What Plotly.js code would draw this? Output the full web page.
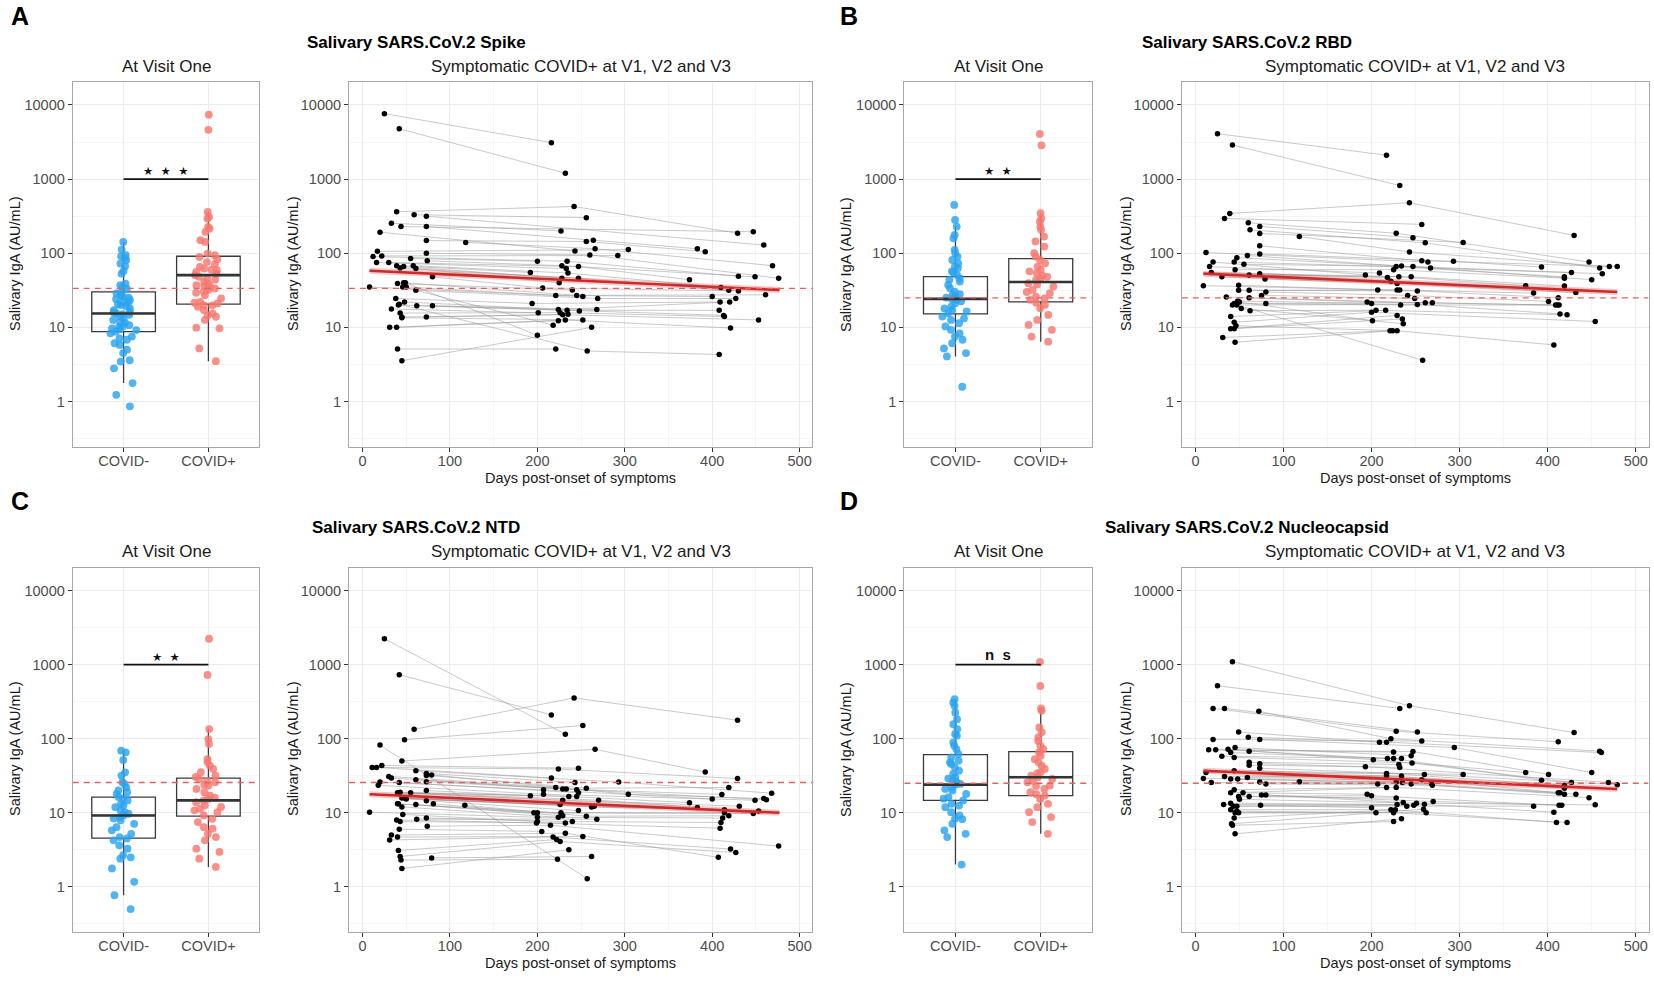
<!DOCTYPE html>
<html><head><meta charset="utf-8">
<script src="https://cdn.plot.ly/plotly-3.0.1.min.js"></script>
<style>html,body{margin:0;padding:0;background:#fff}#chart{width:1654px;height:981px}</style>
</head><body><div id="chart"></div>
<script>
// ---------------- DATA ----------------
const groups = ['COVID-', 'COVID+'];
const xTickVals = [0, 100, 200, 300, 400, 500];
const yTickVals = [1, 10, 100, 1000, 10000];
const panelLetters = ['A', 'B', 'C', 'D'];
const antigenTitles = ['Salivary SARS.CoV.2 Spike', 'Salivary SARS.CoV.2 RBD', 'Salivary SARS.CoV.2 NTD', 'Salivary SARS.CoV.2 Nucleocapsid'];
const sigLabels = ['***', '**', '**', 'ns'];
const cutoffs = [33.6, 25, 25.6, 25];

// Visit-one values (AU/mL)
const spikeNeg = [142,112,94,91,86.5,80.5,72.6,66.9,57.8,53,39,37,35.2,33.1,30.2,28.7,27.2,25.9,25.1,23.3,22.1,21,20.6,20,19.4,18,17.1,16.3,15.4,15.1,14.2,13.2,12.6,11.9,11.6,10.7,10.2,9.7,9.2,8.75,8.3,7.5,7.1,6.8,6.1,5.8,5,4.5,3.6,3.45,2.8,1.77,1.23,0.86,16,14.8,10.4,9.5,24];
const spikePos = [7410,4620,360,308,293,226,215,194,150,142,99,94,89,82,76,71,65.5,62.2,59,56,50.6,48,45.6,41.1,39,37.1,35.3,33.5,31.8,29.3,27.2,24.5,22.1,21,20,19,17.1,15.4,14.6,13.9,12.6,9.9,9.7,5.2,3.5,60,53,44,36,30.5,21.5,19.8];
const rbdNeg = [449,281,229,177,159,111,100,90,81,73,66,63,57,51,46,41.5,37.4,33.7,30.4,27.4,25.2,23.5,21.2,19.1,17.2,15.5,14,12.6,11.4,10.3,9.25,8.3,7.5,6.8,6.1,5.2,4.5,4.05,1.58,55,44,28,24,22.5,18,13.2,26,16.4];
const rbdPos = [4065,2860,346,296,267,229,207,168,144,123,100,90,81,73,66,60,54,48,43.7,39.4,35.5,32,28.9,26,23.5,20.1,18.1,14.7,12.6,10.8,9.25,7.5,6.4,57,45,38,30,24.5,21.5,50];
const ntdNeg = [69,65.5,51.6,35.2,31.8,25.9,24.6,22.1,20,18,16.3,14.7,13.2,11.9,10.7,9.7,8.75,7.9,7.1,6.4,5.8,5.2,4.7,4.25,3.64,3.28,2.67,2.4,1.77,1.17,0.77,0.5,9.2,8.4,12.5,15.5,4.5,2.5,19,10.2];
const ntdPos = [2240,727,135,99,85,53,48,43.4,39,35.3,31.8,28.7,25.9,23.3,21,19,17.1,15.4,13.9,12.6,11.3,10.2,9.2,8.3,7.5,6.4,6.1,5.2,4.7,4.25,3.28,2.96,2.4,1.86,14.7,16,24,27,12,10.8,30.5];
const ncNeg = [342,308,278,226,184,157,135,116,110,89,80.5,72.6,62.2,56.1,50.6,45.6,41.1,37.1,33.5,30.2,27.2,24.5,22.1,20,18,16.3,14.7,13.2,11.9,10.2,9.2,8.3,7.1,5.8,5.2,4.7,2.0,24,26,21,15.5,48,8.2,12.5,29];
const ncPos = [1087,516,256,238,142,122,104,94,80.5,72.6,65.5,59,53,48,43.4,39,35.3,31.8,28.7,25.9,23.3,21,19,17.1,15.4,13.2,11.9,10.2,8.75,7.5,5.2,30.2,27,34,17.8,23];

// Box statistics [q1, median, q3, lower whisker, upper whisker] for [COVID-, COVID+]
const spikeBox = [[8.75, 15.4, 30.2, 1.77, 142], [20.6, 50.6, 91, 3.5, 360]];
const rbdBox   = [[15.2, 24.2, 48.4, 4.05, 229], [22.1, 41, 84.7, 6.4, 346]];
const ntdBox   = [[4.56, 9.2, 16.3, 0.77, 69], [9.0, 14.7, 29.3, 1.86, 135]];
const ncBox    = [[14.7, 24, 61, 2.0, 342], [17.1, 30.2, 66.9, 5.2, 256]];

// Longitudinal subjects: [dayV1, valV1, dayV2, valV2, dayV3, valV3]
const spikeSubjects = [
 [25,7640,216,3100,null,null],[42,4790,232,1200,null,null],[39,363,242,427,429,186],[59,331,256,302,null,null],
 [73,316,null,null,459,129],[33,254,227,200,null,null],[44,229,null,null,447,195],[73,229,264,150,383,115],
 [20,192,243,107,null,null],[73,148,256,144,392,105],[118,140,266,115,469,68],[17,106,304,112,null,null],
 [73,100,260,95,476,46],[22,92,292,93,null,null],[12,90,234,78,430,49],[55,85,200,78,null,null],
 [74,79,228,68,449,48],[16,75,233,62,null,null],[30,75,247,66,374,44],[39,68,192,55,null,null],
 [58,68,235,54,410,34.6],[47,66,228,46,null,null],[43,63,247,46,419,31.6],[61,62,225,40,null,null],
 [80,48,206,34,430,31],[40,39,240,32,null,null],[47,40,245,27,461,27.5],[50,35,221,27,400,26],
 [8,35,252,26,null,null],[61,31.6,269,24.5,427,24.5],[38,24.5,194,21,409,22],[48,22,224,17.4,420,22],
 [41,20,268,17.4,null,null],[62,19.5,234,17,408,17],[80,19.5,248,16.6,413,14.5],[33,17.7,201,15.7,null,null],
 [43,15.6,226,15.8,414,14],[45,13.8,229,14.8,453,12.6],[73,13.8,235,15,null,null],[31,10,232,12.6,421,9.8],
 [39,10,224,12.3,null,null],[45,13.5,252,12.6,null,null],[46,35,218,10.7,null,null],[40,5.1,221,5.1,null,null],
 [45,3.55,262,10,null,null],[49,40,200,7.8,null,null],[42,20.5,257,4.8,408,4.3]
];
const rbdSubjects = [
 [25,4100,217,2100,null,null],[42,2880,232,820,null,null],[39,344,243,480,430,174],[33,295,257,245,null,null],
 [60,257,228,186,447,76],[73,230,247,162,null,null],[62,207,261,138,459,63],[73,185,304,140,null,null],
 [118,168,243,104,470,66],[73,126,257,79,479,66],[12,102,264,76,null,null],[73,98,293,78,393,65],
 [59,93,267,63,462,53],[47,87,234,67,427,55],[20,76,193,51,null,null],[44,76,228,66,419,48],
 [55,71,247,66,450,44],[16,66,209,54,null,null],[45,60,225,60,419,46],[18,55,218,47,null,null],
 [73,53,245,48,419,36],[61,51,231,48,375,36.5],[30,48,222,42,null,null],[79,45,229,39,432,29.5],
 [49,37,207,32,null,null],[9,36.5,229,32,384,29],[49,31.6,252,31,412,25],[61,31.6,232,32,null,null],
 [80,30,241,27,401,22.4],[75,27,249,24.5,null,null],[35,25.7,195,22,411,20],[61,25,261,21.5,409,20],
 [48,22.7,200,21,null,null],[44,21,233,20,413,20],[80,21,269,21.5,null,null],[42,20,252,20.4,414,15.2],
 [62,16.8,205,17,422,14.8],[40,14,216,17,null,null],[44,11.7,200,16,454,12],[40,9.6,229,14.5,null,null],
 [44,9.6,235,13,null,null],[31,7.3,221,9,null,null],[45,6.3,224,9,null,null],[46,10.5,229,9,407,5.8],
 [47,20,258,3.6,null,null],[50,22,201,12.3,null,null],[52,18,236,11.2,null,null]
];
const ntdSubjects = [
 [25,2240,232,115,null,null],[42,733,216,210,null,null],[59,134,242,356,429,178],[48,97,252,151,null,null],
 [20,82,257,1.29,null,null],[45,50,266,72,392,35.5],[22,43.5,247,40,null,null],[11,41,224,39,429,29],
 [16,41,216,29.5,null,null],[61,37,293,26,468,18.4],[73,34,243,25.7,null,null],[73,32,256,21.5,419,22],
 [79,32.5,304,17.8,459,15.6],[30,31,221,22,null,null],[33,29.5,229,21,411,17.7],[61,28,233,21,null,null],
 [73,26.3,245,20.4,462,15],[20,26,207,20.4,400,15.3],[42,25.7,247,18.6,null,null],[18,23.5,207,17.8,449,14.8],
 [73,20,192,17,null,null],[43,19,236,16.6,374,13.7],[40,18.7,245,16.6,null,null],[42,18.7,229,14.8,431,12.3],
 [55,18.6,270,14.8,383,11.8],[45,15.8,226,12.9,null,null],[48,15.8,262,12,414,11],[50,15.3,265,12.3,453,10.6],
 [73,14.5,247,10.7,null,null],[40,13.2,227,10,414,10],[41,13.2,196,10,null,null],[81,13.2,200,10,447,9.8],
 [61,12.9,229,9.1,null,null],[117,12.6,256,9,419,9.1],[45,12,224,8.7,null,null],[8,10.2,200,8.7,412,8.5],
 [46,9.5,200,7.6,null,null],[73,8.5,240,7.6,410,7.4],[62,8.2,268,8.2,null,null],[39,8,199,7.3,409,6.2],
 [43,7.6,232,7.3,null,null],[74,6.6,215,6.8,476,3.55],[42,6,205,5.6,null,null],[33,5,232,5.3,407,2.5],
 [40,4.7,252,4.8,null,null],[31,4.3,218,4.7,421,3.24],[41,3.1,222,4.35,null,null],[43,2.57,226,4.1,427,2.9],
 [79,2.46,262,2.57,null,null],[44,2.3,223,2.35,null,null],[45,1.77,236,3.16,null,null]
];
const ncSubjects = [
 [42,1100,243,279,430,121],[25,520,232,257,null,null],[20,257,228,126,412,91],[33,257,252,123,null,null],
 [72,235,222,100,459,68],[49,123,209,90,null,null],[60,105,217,90,461,65],[20,98,257,93,null,null],
 [73,98,294,76,450,35],[15,71,225,66,null,null],[23,71,247,67,401,33],[45,76,245,59,null,null],
 [37,72,202,52,375,35],[61,68,218,54,null,null],[40,65,225,54,393,27.5],[30,58,234,54,null,null],
 [44,56,246,47,427,25.7],[61,48,231,45,null,null],[73,46,193,42,469,25.7],[61,44,232,41,null,null],
 [73,40,260,33,479,24],[12,35,217,34,419,23.5],[44,37,304,33,null,null],[33,31,217,31.6,419,21.5],
 [59,30,234,31.5,null,null],[9,29,257,28,412,18.7],[40,28.5,228,26,null,null],[48,28.5,235,25.6,414,18.7],
 [118,26.3,268,25,null,null],[73,26,245,24.5,419,17.8],[18,25.7,207,24.5,null,null],[80,24.5,269,23.5,432,17.8],
 [44,20.5,217,22,null,null],[40,18.6,228,22,447,16],[54,18.6,195,17.8,null,null],[49,16.6,200,17,413,12.6],
 [61,16.6,228,15.8,null,null],[75,17.4,270,14.2,416,12.6],[80,17.4,236,13.8,null,null],[50,15.2,251,13.5,454,12.8],
 [40,13.5,229,12.9,null,null],[43,12.3,240,12.3,384,12.3],[47,12.3,248,12.6,null,null],[32,12.9,260,13,407,10.2],
 [74,12.6,200,11.7,null,null],[40,11,222,11,410,7.4],[45,10,205,10,null,null],[49,10,225,10,422,7.4],
 [44,8.5,227,11,null,null],[41,7.1,259,11.2,null,null],[42,6.8,225,7.6,null,null],[45,5.2,234,8.3,null,null],
 [47,10.5,262,10,null,null]
];

// Fitted trend lines: [[startDay, value], [endDay, value]]
const spikeTrend = [[8, 58], [477, 32]];
const rbdTrend   = [[9, 53], [479, 30]];
const ntdTrend   = [[8, 17.8], [477, 10]];
const ncTrend    = [[9, 37], [479, 21]];

// ---------------- LAYOUT / DRAWING ----------------
const W = 1654, H = 981;
const FONT = 'Liberation Sans, Arial, Helvetica, sans-serif';
const COL_NEG = '#2ba4ef', COL_POS = '#f6776f';
const boxCols = [[72.7, 259.3], [904.3, 1091.9]];
const scatCols = [[349, 812.3], [1181.8, 1648.5]];
const rows = [[82, 446.7], [567.7, 932]];
const rowShift = [0, 485];

const panels = [
  {neg: spikeNeg, pos: spikePos, box: spikeBox, subj: spikeSubjects, trend: spikeTrend},
  {neg: rbdNeg, pos: rbdPos, box: rbdBox, subj: rbdSubjects, trend: rbdTrend},
  {neg: ntdNeg, pos: ntdPos, box: ntdBox, subj: ntdSubjects, trend: ntdTrend},
  {neg: ncNeg, pos: ncPos, box: ncBox, subj: ncSubjects, trend: ncTrend}
];

const fx = v => v / W;
const fy = v => 1 - v / H;
const traces = [];
const annotations = [];
const layout = {
  width: W, height: H, margin: {l: 0, r: 0, t: 0, b: 0},
  paper_bgcolor: '#fff', plot_bgcolor: '#fff', showlegend: false,
  boxmode: 'overlay', hovermode: false, font: {family: FONT}
};

const yMinor = [0.3162, 3.162, 31.62, 316.2, 3162];
function yAxis(n, r) {
  return {
    type: 'log', range: [-0.61, 4.31], domain: [fy(rows[r][1]), fy(rows[r][0])],
    anchor: 'x' + n, tickmode: 'array', tickvals: yTickVals, ticktext: yTickVals.map(String),
    showgrid: true, gridcolor: '#ebebeb', gridwidth: 1,
    minor: {tickmode: 'array', tickvals: yMinor, showgrid: true, gridcolor: '#f5f5f5', gridwidth: 1, ticks: ''},
    ticks: 'outside', ticklen: 4, tickcolor: '#333', tickwidth: 1,
    showline: true, mirror: true, linecolor: '#a8a8a8', linewidth: 1, zeroline: false,
    tickfont: {family: FONT, size: 14.5, color: '#4d4d4d'}, fixedrange: true
  };
}

panels.forEach((p, i) => {
  const r = Math.floor(i / 2), c = i % 2;
  const nb = 2 * i + 1, ns = 2 * i + 2;
  const xb = 'x' + nb, yb = 'y' + nb, xs = 'x' + ns, ys = 'y' + ns;
  const xbKey = nb === 1 ? 'xaxis' : 'xaxis' + nb, ybKey = nb === 1 ? 'yaxis' : 'yaxis' + nb;

  layout[xbKey] = {
    range: [-0.6, 1.6], domain: [fx(boxCols[c][0]), fx(boxCols[c][1])], anchor: yb,
    tickmode: 'array', tickvals: [0, 1], ticktext: groups,
    showgrid: true, gridcolor: '#ebebeb', zeroline: false,
    ticks: 'outside', ticklen: 4, tickcolor: '#333', ticklabelstandoff: -3,
    showline: true, mirror: true, linecolor: '#a8a8a8',
    tickfont: {family: FONT, size: 14.5, color: '#4d4d4d'}, fixedrange: true
  };
  layout[ybKey] = yAxis(nb, r);
  layout['xaxis' + ns] = {
    range: [-15.5, 514.5], domain: [fx(scatCols[c][0]), fx(scatCols[c][1])], anchor: ys,
    tickmode: 'array', tickvals: xTickVals, ticktext: xTickVals.map(String),
    showgrid: true, gridcolor: '#ebebeb', zeroline: false,
    minor: {tickmode: 'array', tickvals: [50, 150, 250, 350, 450], showgrid: true, gridcolor: '#f5f5f5', ticks: ''},
    ticks: 'outside', ticklen: 4, tickcolor: '#333', ticklabelstandoff: -3,
    showline: true, mirror: true, linecolor: '#a8a8a8',
    tickfont: {family: FONT, size: 14.5, color: '#4d4d4d'}, fixedrange: true
  };
  layout['yaxis' + ns] = yAxis(ns, r);

  // ---- box panel ----
  [0, 1].forEach(g => {
    const st = p.box[g];
    traces.push({
      type: 'box', x: [g], q1: [st[0]], median: [st[1]], q3: [st[2]], lowerfence: [st[3]], upperfence: [st[4]],
      width: 0.75, whiskerwidth: 0, boxpoints: false,
      fillcolor: 'rgba(255,255,255,0)', line: {color: '#3a3a3a', width: 1.3},
      xaxis: xb, yaxis: yb, hoverinfo: 'skip'
    });
    traces.push({
      type: 'scatter', mode: 'lines', x: [g - 0.375, g + 0.375], y: [st[1], st[1]],
      line: {color: '#333', width: 2.6}, xaxis: xb, yaxis: yb, hoverinfo: 'skip'
    });
  });
  [[p.neg, COL_NEG, 0], [p.pos, COL_POS, 1]].forEach(([vals, col, g]) => {
    traces.push({
      type: 'box', x0: g, y: vals, width: 0.75, boxpoints: 'all', jitter: 0.45, pointpos: 0,
      marker: {color: col, size: 7.8, opacity: 0.82, line: {width: 0}},
      line: {width: 0, color: 'rgba(0,0,0,0)'}, fillcolor: 'rgba(0,0,0,0)', whiskerwidth: 0,
      xaxis: xb, yaxis: yb, hoverinfo: 'skip'
    });
  });
  traces.push({
    type: 'scatter', mode: 'lines', x: [-0.6, 1.6], y: [cutoffs[i], cutoffs[i]],
    line: {color: '#e8605e', width: 1.4, dash: '6px,5px'}, xaxis: xb, yaxis: yb, hoverinfo: 'skip'
  });
  traces.push({
    type: 'scatter', mode: 'lines', x: [0, 1], y: [1000, 1000],
    line: {color: '#111', width: 1.7}, xaxis: xb, yaxis: yb, hoverinfo: 'skip'
  });
  const sig = sigLabels[i];
  if (sig.indexOf('*') >= 0) {
    annotations.push({
      xref: xb, yref: yb, x: 0.5, y: 3, yanchor: 'middle', yshift: 8, showarrow: false,
      text: sig.split('').map(() => '\u2605').join('\u00a0\u00a0'),
      font: {family: 'DejaVu Sans', size: 11.5, color: '#111'}
    });
  } else {
    annotations.push({
      xref: xb, yref: yb, x: 0.5, y: 3, yanchor: 'bottom', yshift: 0, showarrow: false,
      text: '<b>' + sig.split('').join('\u00a0\u00a0') + '</b>',
      font: {family: FONT, size: 15, color: '#111'}
    });
  }

  // ---- longitudinal panel ----
  const lx = [], ly = [], px = [], py = [];
  p.subj.forEach(s => {
    for (let k = 0; k < 3; k++) {
      if (s[2 * k] !== null) { lx.push(s[2 * k]); ly.push(s[2 * k + 1]); px.push(s[2 * k]); py.push(s[2 * k + 1]); }
    }
    lx.push(null); ly.push(null);
  });
  traces.push({
    type: 'scatter', mode: 'lines', x: lx, y: ly, connectgaps: false,
    line: {color: 'rgba(150,150,150,0.5)', width: 1}, xaxis: xs, yaxis: ys, hoverinfo: 'skip'
  });
  traces.push({
    type: 'scatter', mode: 'markers', x: px, y: py,
    marker: {color: '#000', size: 5.5}, xaxis: xs, yaxis: ys, hoverinfo: 'skip'
  });
  traces.push({
    type: 'scatter', mode: 'lines', x: p.trend.map(t => t[0]), y: p.trend.map(t => t[1]),
    line: {color: 'rgba(214,40,40,0.25)', width: 6}, xaxis: xs, yaxis: ys, hoverinfo: 'skip'
  });
  traces.push({
    type: 'scatter', mode: 'lines', x: p.trend.map(t => t[0]), y: p.trend.map(t => t[1]),
    line: {color: '#cf2a2a', width: 2.6}, xaxis: xs, yaxis: ys, hoverinfo: 'skip'
  });
  traces.push({
    type: 'scatter', mode: 'lines', x: [-15.5, 514.5], y: [cutoffs[i], cutoffs[i]],
    line: {color: '#e8605e', width: 1.4, dash: '6px,5px'}, xaxis: xs, yaxis: ys, hoverinfo: 'skip'
  });

  // ---- text ----
  const dy = rowShift[r];
  const bc = (boxCols[c][0] + boxCols[c][1]) / 2;
  const sc = (scatCols[c][0] + scatCols[c][1]) / 2;
  const addText = (x, y, text, size, opts) => annotations.push(Object.assign({
    xref: 'paper', yref: 'paper', x: fx(x), y: fy(y), xanchor: 'center', yanchor: 'middle',
    showarrow: false, text: text, font: {family: FONT, size: size, color: '#1a1a1a'}
  }, opts || {}));
  addText(c === 0 ? 20 : 849, 16 + dy, '<b>' + panelLetters[i] + '</b>', 25, {font: {family: FONT, size: 25, color: '#000'}});
  addText(c === 0 ? 416 : 1247, 42 + dy, '<b>' + antigenTitles[i] + '</b>', 17, {font: {family: FONT, size: 17, color: '#000'}});
  addText(bc, 66.5 + dy, 'At Visit One', 17);
  addText(sc, 66.5 + dy, 'Symptomatic COVID+ at V1, V2 and V3', 17);
  addText(sc, 478 + dy, 'Days post-onset of symptoms', 14.5);
  addText(c === 0 ? 15 : 846, 264 + dy, 'Salivary IgA (AU/mL)', 14.5, {textangle: -90});
  addText(c === 0 ? 293 : 1126, 264 + dy, 'Salivary IgA (AU/mL)', 14.5, {textangle: -90});
});

layout.annotations = annotations;
Plotly.newPlot('chart', traces, layout, {staticPlot: true, displayModeBar: false});
</script></body></html>
